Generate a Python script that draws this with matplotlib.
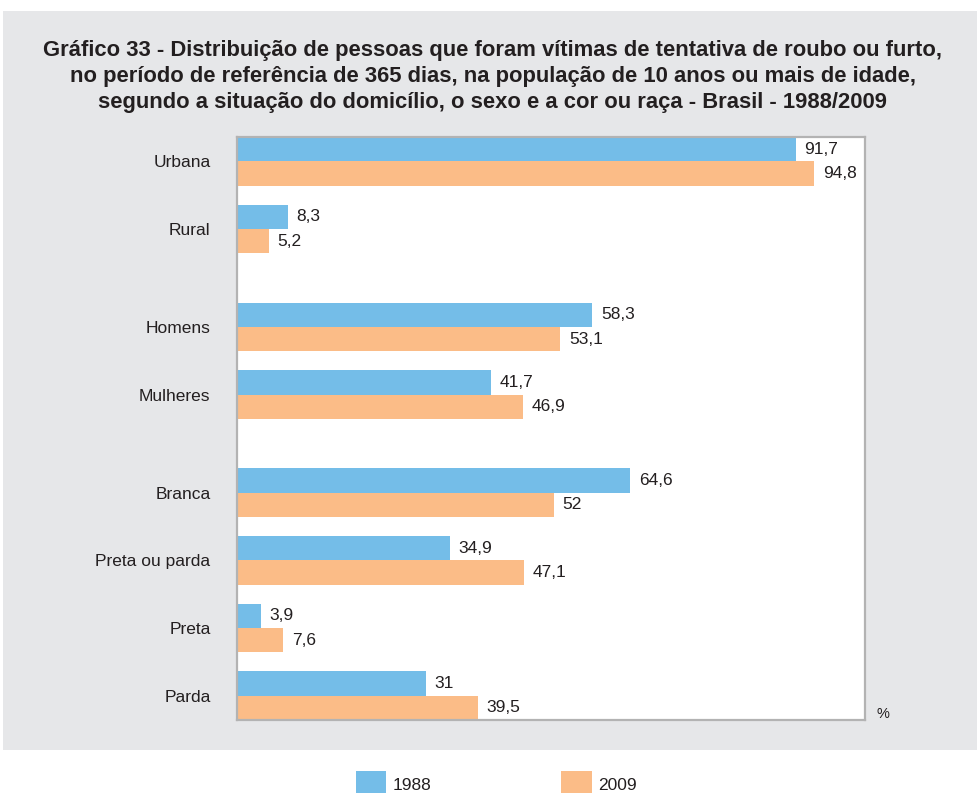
import matplotlib
matplotlib.use("Agg")
import matplotlib.pyplot as plt
from matplotlib.patches import Rectangle
import numpy as np

# Data: share of victims (%) by group
sections = [
    ["Urbana", "Rural"],
    ["Homens", "Mulheres"],
    ["Branca", "Preta ou parda", "Preta", "Parda"],
]
categories = [c for s in sections for c in s]
values_1988 = [91.7, 8.3, 58.3, 41.7, 64.6, 34.9, 3.9, 31.0]
values_2009 = [94.8, 5.2, 53.1, 46.9, 52.0, 47.1, 7.6, 39.5]
labels_1988 = ["91,7", "8,3", "58,3", "41,7", "64,6", "34,9", "3,9", "31"]
labels_2009 = ["94,8", "5,2", "53,1", "46,9", "52", "47,1", "7,6", "39,5"]
series_names = ["1988", "2009"]

title = ("Gráfico 33 - Distribuição de pessoas que foram vítimas de tentativa de roubo ou furto,\n"
         "no período de referência de 365 dias, na população de 10 anos ou mais de idade,\n"
         "segundo a situação do domicílio, o sexo e a cor ou raça - Brasil - 1988/2009")

BLUE = "#74bde8"
ORANGE = "#fbbc87"
PANEL = "#e6e7e9"
TEXT = "#231f20"
FONT = ["Liberation Sans", "DejaVu Sans"]

# category slots with a smaller gap between sections
positions = []
pos = 0.0
for i, s in enumerate(sections):
    if i > 0:
        pos += 0.45
    for _ in s:
        positions.append(pos)
        pos += 1.0
positions = np.array(positions)

W, H = 977, 793
fig = plt.figure(figsize=(W / 100, H / 100), dpi=100)
fig.patch.set_facecolor("white")

# grey panel behind title and plot
panel = Rectangle((3 / W, 1 - 750 / H), 1 - 3 / W, (750 - 11) / H,
                  transform=fig.transFigure, facecolor=PANEL,
                  edgecolor="none", zorder=-10)
fig.add_artist(panel)

fig.text(493 / W, 1 - 76.5 / H, title, ha="center", va="center",
         fontsize=15.8, fontweight="bold", family=FONT, color=TEXT,
         linespacing=1.34, zorder=5)

ax = fig.add_axes([237 / W, 1 - 720 / H, (865 - 237) / W, (720 - 137) / H])
ax.set_zorder(2)
ax.set_facecolor("white")

bh = 0.36
b1 = ax.barh(positions - bh / 2, values_1988, height=bh, color=BLUE, label=series_names[0])
b2 = ax.barh(positions + bh / 2, values_2009, height=bh, color=ORANGE, label=series_names[1])

for bars, labs in ((b1, labels_1988), (b2, labels_2009)):
    for rect, lab in zip(bars, labs):
        ax.annotate(lab, (rect.get_width(), rect.get_y() + rect.get_height() / 2),
                    xytext=(6.5, 0), textcoords="offset points",
                    ha="left", va="center", fontsize=12.5, family=FONT, color=TEXT)

ax.set_xlim(0, 103.1)
ax.set_ylim(positions[-1] + bh, positions[0] - bh)
ax.set_xticks([])
ax.set_yticks(positions)
ax.set_yticklabels(categories, fontsize=12.5, family=FONT, color=TEXT)
ax.tick_params(axis="y", length=0, pad=19)
for sp in ax.spines.values():
    sp.set_color("#b3b3b3")
    sp.set_linewidth(1.6)

fig.text(883 / W, 1 - 714 / H, "%", ha="center", va="center",
         fontsize=10.5, family=FONT, color=TEXT)

fig.legend(handles=[b1, b2], labels=series_names, loc="center left",
           bbox_to_anchor=(356 / W, 1 - 784 / H), frameon=False, ncol=2,
           prop={"family": FONT, "size": 12.5}, labelcolor=TEXT,
           handlelength=1.75, handleheight=1.9, handletextpad=0.35,
           columnspacing=7.5, borderpad=0, borderaxespad=0)

fig.savefig("out.png", dpi=100, facecolor="white")
